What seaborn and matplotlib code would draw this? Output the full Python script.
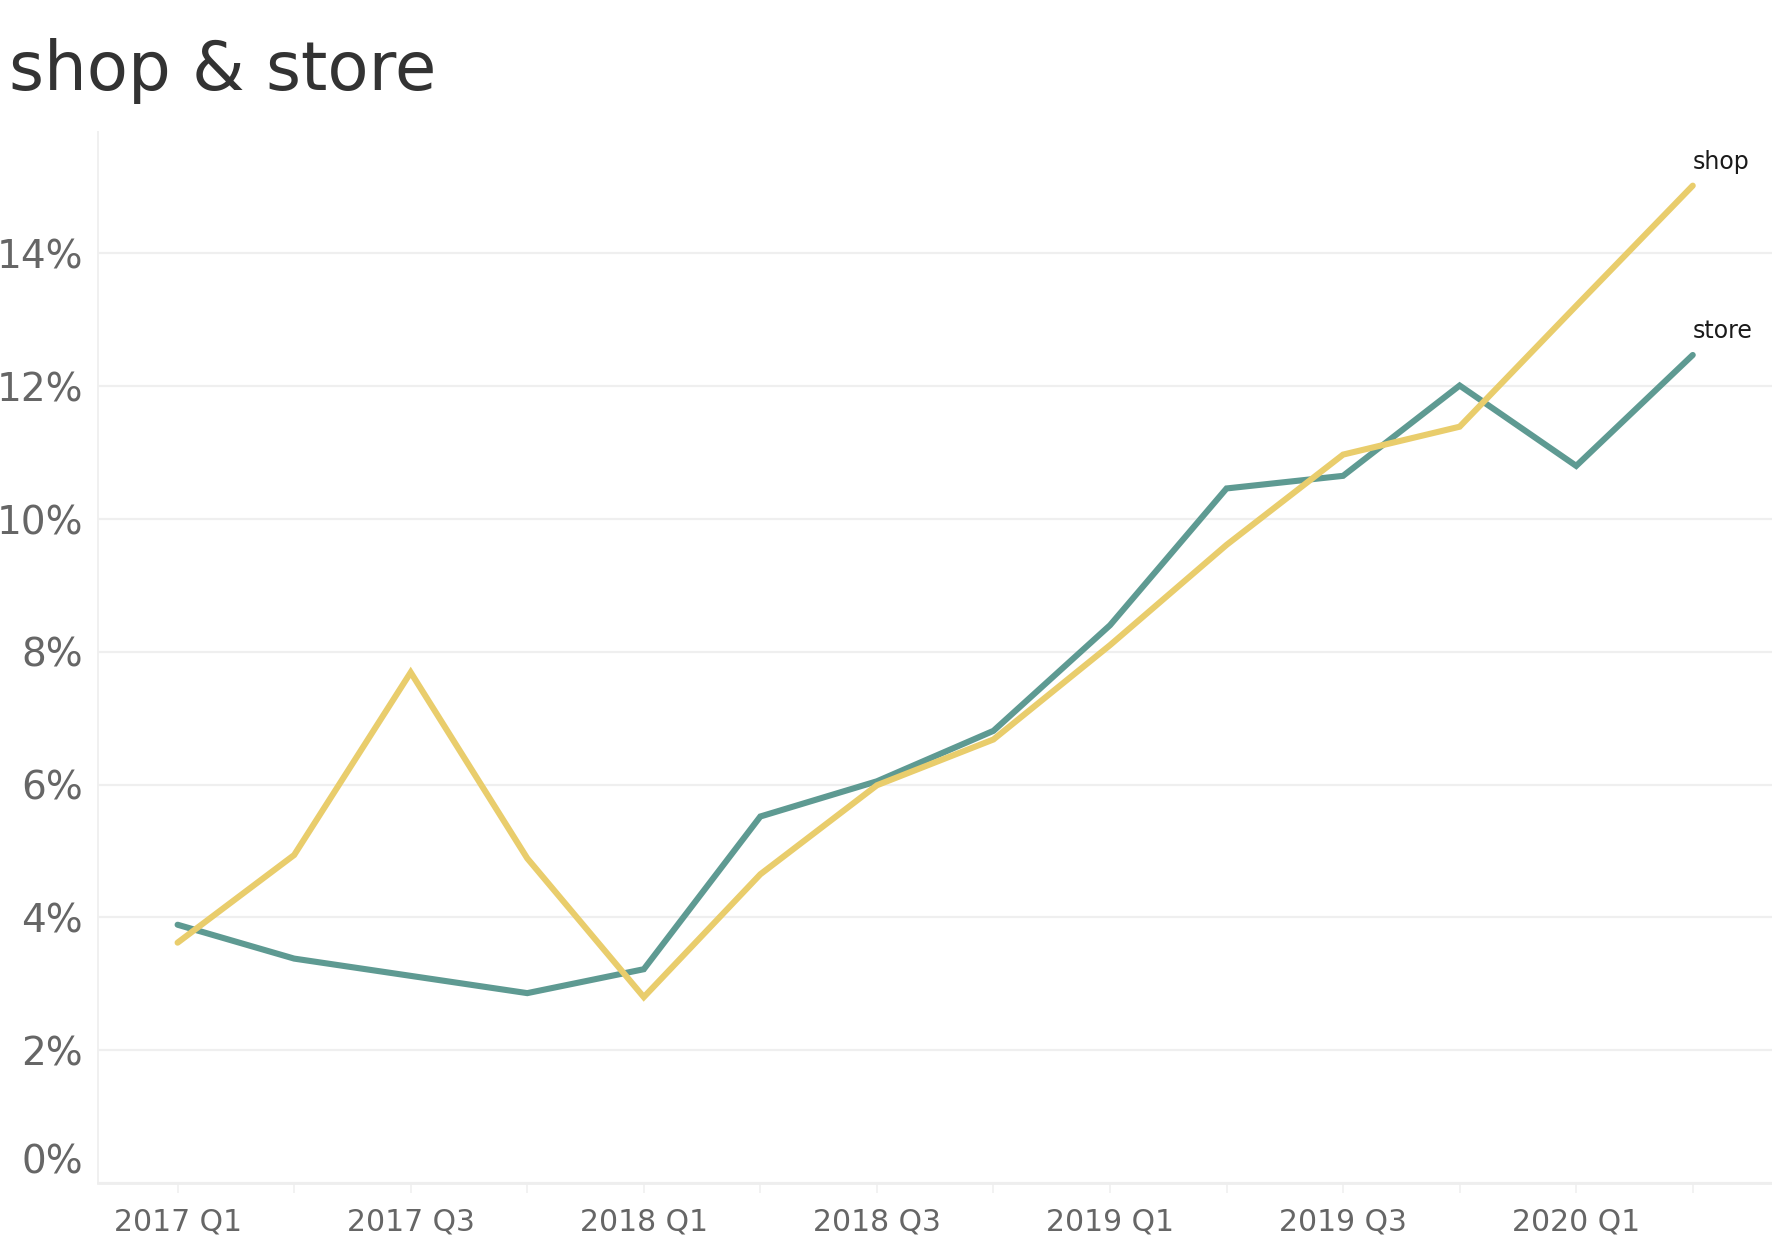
import numpy as np
import pandas as pd
import matplotlib
matplotlib.use("Agg")
import matplotlib.pyplot as plt
import matplotlib.transforms as mtransforms
import seaborn as sns

# quarterly values, in percent
quarters = ["2017 Q1", "2017 Q2", "2017 Q3", "2017 Q4",
            "2018 Q1", "2018 Q2", "2018 Q3", "2018 Q4",
            "2019 Q1", "2019 Q2", "2019 Q3", "2019 Q4",
            "2020 Q1", "2020 Q2"]
shop = [3.62, 4.94, 7.69, 4.89, 2.80, 4.65, 5.99, 6.68, 8.10, 9.61, 10.97, 11.39, 13.21, 15.02]
store = [3.89, 3.38, 3.12, 2.86, 3.22, 5.52, 6.05, 6.81, 8.40, 10.46, 10.65, 12.01, 10.80, 12.47]
y_ticks = [0, 2, 4, 6, 8, 10, 12, 14]

colors = {"shop": "#e9cd6c", "store": "#5e9a92"}


def main():
    df = pd.concat([
        pd.DataFrame({"idx": range(len(quarters)), "value": shop, "series": "shop"}),
        pd.DataFrame({"idx": range(len(quarters)), "value": store, "series": "store"}),
    ])

    sns.set_style("white")
    plt.rcParams["font.family"] = ["DejaVu Sans"]

    fig = plt.figure(figsize=(17.72, 12.44), dpi=100)
    ax = fig.add_axes([0.0555, 0.049, 0.9445, 0.845])

    sns.lineplot(data=df, x="idx", y="value", hue="series", hue_order=["store", "shop"],
                 palette=colors, linewidth=4.4, legend=False, ax=ax,
                 solid_capstyle="round", solid_joinstyle="miter")

    ax.set_xlim(-0.68, 13.68)
    ax.set_ylim(0, 15.83)

    # grid + spines, very light
    ax.set_yticks(y_ticks)
    ax.yaxis.grid(True, color="#efefef", linewidth=1.6)
    ax.xaxis.grid(False)
    for side in ["top", "right"]:
        ax.spines[side].set_visible(False)
    ax.spines["left"].set_color("#f0f0f0")
    ax.spines["left"].set_linewidth(1.4)
    ax.spines["bottom"].set_color("#eeeeee")
    ax.spines["bottom"].set_linewidth(2.0)

    ax.set_yticklabels([f"{v}%" for v in y_ticks])
    ax.tick_params(axis="y", length=0, pad=11, labelsize=28, labelcolor="#666666")
    for lab in ax.get_yticklabels():
        lab.set_verticalalignment("center_baseline")
    # 0% label sits a bit above the bottom line
    zero = ax.get_yticklabels()[0]
    zero.set_transform(zero.get_transform() +
                       mtransforms.ScaledTranslation(0, 0.25, fig.dpi_scale_trans))

    ax.set_xticks(range(len(quarters)))
    ax.set_xticklabels([q if i % 2 == 0 else "" for i, q in enumerate(quarters)])
    ax.tick_params(axis="x", direction="out", length=7.5, width=1.2, color="#f0f0f0",
                   pad=10, labelsize=21.5, labelcolor="#666666", bottom=True)

    ax.set_xlabel("")
    ax.set_ylabel("")

    # end labels
    last = len(quarters) - 1
    for name, vals in [("shop", shop), ("store", store)]:
        ax.annotate(name, xy=(last, vals[-1]), xytext=(0, 12), textcoords="offset points",
                    ha="left", va="baseline", fontsize=17, color="#1a1a1a",
                    annotation_clip=False)

    fig.text(0.005, 0.928, "shop & store", fontsize=48.5, color="#333333",
             ha="left", va="baseline")

    fig.savefig("out.png", dpi=100)
    plt.close(fig)


if __name__ == "__main__":
    main()
